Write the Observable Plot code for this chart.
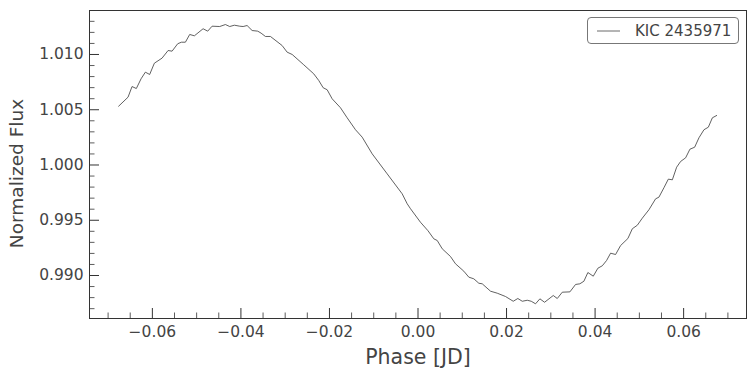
<!DOCTYPE html>
<html>
<head>
<meta charset="utf-8">
<script src="https://cdn.jsdelivr.net/npm/d3@7"></script>
<script src="https://cdn.jsdelivr.net/npm/@observablehq/plot@0.6"></script>
<style>
  html, body { margin: 0; padding: 0; background: #fff; }
  #chart { width: 756px; height: 376px; position: relative; }
</style>
</head>
<body>
<div id="chart"></div>
<script>
const seriesName = "KIC 2435971";
const phase = [
  -0.06762, -0.06549, -0.06459, -0.06362, -0.06255, -0.06158, -0.06061, -0.05955, -0.05781, -0.05645,
  -0.05555, -0.05428, -0.05345, -0.05254, -0.05157, -0.05051, -0.04854, -0.04750, -0.04651, -0.04479,
  -0.04350, -0.04253, -0.04147, -0.04027, -0.03950, -0.03860, -0.03747, -0.03620, -0.03544, -0.03446,
  -0.03333, -0.03069, -0.02956, -0.02842, -0.02581, -0.02355, -0.02242, -0.02142, -0.02052, -0.01939,
  -0.01751, -0.01600, -0.01412, -0.01261, -0.01035, -0.00696, -0.00357, -0.00244, -0.00169, 0.00056,
  0.00226, 0.00357, 0.00434, 0.00547, 0.00734, 0.00847, 0.01035, 0.01148, 0.01261, 0.01374,
  0.01451, 0.01638, 0.01790, 0.01977, 0.02151, 0.02255, 0.02355, 0.02468, 0.02558, 0.02655,
  0.02753, 0.02859, 0.03055, 0.03146, 0.03259, 0.03431, 0.03559, 0.03656, 0.03747, 0.03837,
  0.03959, 0.04063, 0.04163, 0.04260, 0.04350, 0.04463, 0.04576, 0.04741, 0.04841, 0.04954,
  0.05067, 0.05216, 0.05367, 0.05442, 0.05555, 0.05654, 0.05745, 0.05842, 0.05932, 0.06045,
  0.06142, 0.06249, 0.06346, 0.06459, 0.06558, 0.06649, 0.06746
];
const flux = [
  1.00532, 1.00614, 1.00710, 1.00692, 1.00780, 1.00840, 1.00819, 1.00921, 1.00967, 1.01036,
  1.01030, 1.01097, 1.01111, 1.01111, 1.01181, 1.01169, 1.01233, 1.01211, 1.01256, 1.01253,
  1.01271, 1.01253, 1.01265, 1.01256, 1.01253, 1.01262, 1.01217, 1.01211, 1.01193, 1.01163,
  1.01163, 1.01081, 1.01021, 1.01000, 1.00907, 1.00825, 1.00765, 1.00699, 1.00681, 1.00599,
  1.00518, 1.00427, 1.00319, 1.00252, 1.00101, 0.99920, 0.99739, 0.99649, 0.99604, 0.99482,
  0.99405, 0.99332, 0.99317, 0.99242, 0.99172, 0.99106, 0.99039, 0.98985, 0.98970, 0.98930,
  0.98925, 0.98858, 0.98840, 0.98810, 0.98767, 0.98792, 0.98767, 0.98776, 0.98767, 0.98744,
  0.98789, 0.98758, 0.98819, 0.98792, 0.98849, 0.98852, 0.98919, 0.98925, 0.98948, 0.99027,
  0.98994, 0.99066, 0.99088, 0.99136, 0.99202, 0.99190, 0.99271, 0.99335, 0.99423, 0.99455,
  0.99519, 0.99595, 0.99694, 0.99709, 0.99794, 0.99872, 0.99866, 0.99980, 1.00032, 1.00065,
  1.00143, 1.00161, 1.00246, 1.00319, 1.00342, 1.00427, 1.00448
];
const xTicks = [-0.06, -0.04, -0.02, 0.00, 0.02, 0.04, 0.06];
const xTickLabels = ["\u22120.06", "\u22120.04", "\u22120.02", "0.00", "0.02", "0.04", "0.06"];
const xMinorTicks = [-0.07, -0.065, -0.055, -0.05, -0.045, -0.035, -0.03, -0.025, -0.015, -0.01, -0.005,
  0.005, 0.01, 0.015, 0.025, 0.03, 0.035, 0.045, 0.05, 0.055, 0.065, 0.07];
const yTicks = [0.990, 0.995, 1.000, 1.005, 1.010];
const yTickLabels = ["0.990", "0.995", "1.000", "1.005", "1.010"];
const yMinorTicks = [0.987, 0.988, 0.989, 0.991, 0.992, 0.993, 0.994, 0.996, 0.997, 0.998, 0.999,
  1.001, 1.002, 1.003, 1.004, 1.006, 1.007, 1.008, 1.009, 1.011, 1.012, 1.013];
const xLabel = "Phase [JD]";
const yLabel = "Normalized Flux";

const data = phase.map((p, i) => ({phase: p, flux: flux[i]}));

const W = 756, H = 376;
const mL = 89, mR = 10, mT = 10, mB = 58;
const fw = W - mL - mR, fh = H - mT - mB;
const ink = "#444";
const font = "DejaVu Sans, sans-serif";

const plot = Plot.plot({
  width: W, height: H,
  marginLeft: mL, marginRight: mR, marginTop: mT, marginBottom: mB,
  style: {fontFamily: font, color: ink, background: "#fff", overflow: "visible"},
  x: {domain: [-0.0742, 0.0742]},
  y: {domain: [0.98611, 1.01398]},
  marks: [
    Plot.axisX(xTicks, {tickSize: 0, tickPadding: 7, fontSize: 15.5, fill: ink,
      tickFormat: (d, i) => xTickLabels[i], label: null}),
    Plot.axisY(yTicks, {tickSize: 0, tickPadding: 6, fontSize: 15.5, fill: ink,
      tickFormat: (d, i) => yTickLabels[i], label: null}),
    Plot.tickX(xTicks, {x: d => d, insetTop: fh - 10, stroke: "#333", strokeWidth: 1}),
    Plot.tickX(xMinorTicks, {x: d => d, insetTop: fh - 5.5, stroke: "#333", strokeWidth: 0.8}),
    Plot.tickY(yTicks, {y: d => d, insetRight: fw - 10, stroke: "#333", strokeWidth: 1}),
    Plot.tickY(yMinorTicks, {y: d => d, insetRight: fw - 5.5, stroke: "#333", strokeWidth: 0.8}),
    Plot.frame({stroke: "#333", strokeWidth: 1}),
    Plot.line(data, {x: "phase", y: "flux", stroke: "#444", strokeWidth: 0.85}),
    Plot.text([xLabel], {frameAnchor: "bottom", dy: 39, fontSize: 20.5, fill: ink,
      textAnchor: "middle", lineAnchor: "middle"}),
    Plot.text([yLabel], {frameAnchor: "left", dx: -72, dy: 9, rotate: -90, fontSize: 18.5, fill: ink,
      textAnchor: "middle", lineAnchor: "middle"})
  ]
});

// legend
const svg = d3.select(plot);
const lg = svg.append("g");
lg.append("rect").attr("x", 587.5).attr("y", 17.5).attr("width", 151).attr("height", 26)
  .attr("rx", 3.5).attr("fill", "#fff").attr("stroke", "#777").attr("stroke-width", 1);
lg.append("line").attr("x1", 597).attr("x2", 620).attr("y1", 31).attr("y2", 31)
  .attr("stroke", "#444").attr("stroke-width", 0.8);
lg.append("text").attr("x", 635).attr("y", 31).attr("dy", "0.35em")
  .attr("text-anchor", "start")
  .attr("font-size", 15).attr("fill", ink).attr("font-family", font).text(seriesName);

document.getElementById("chart").appendChild(plot);
</script>
</body>
</html>
